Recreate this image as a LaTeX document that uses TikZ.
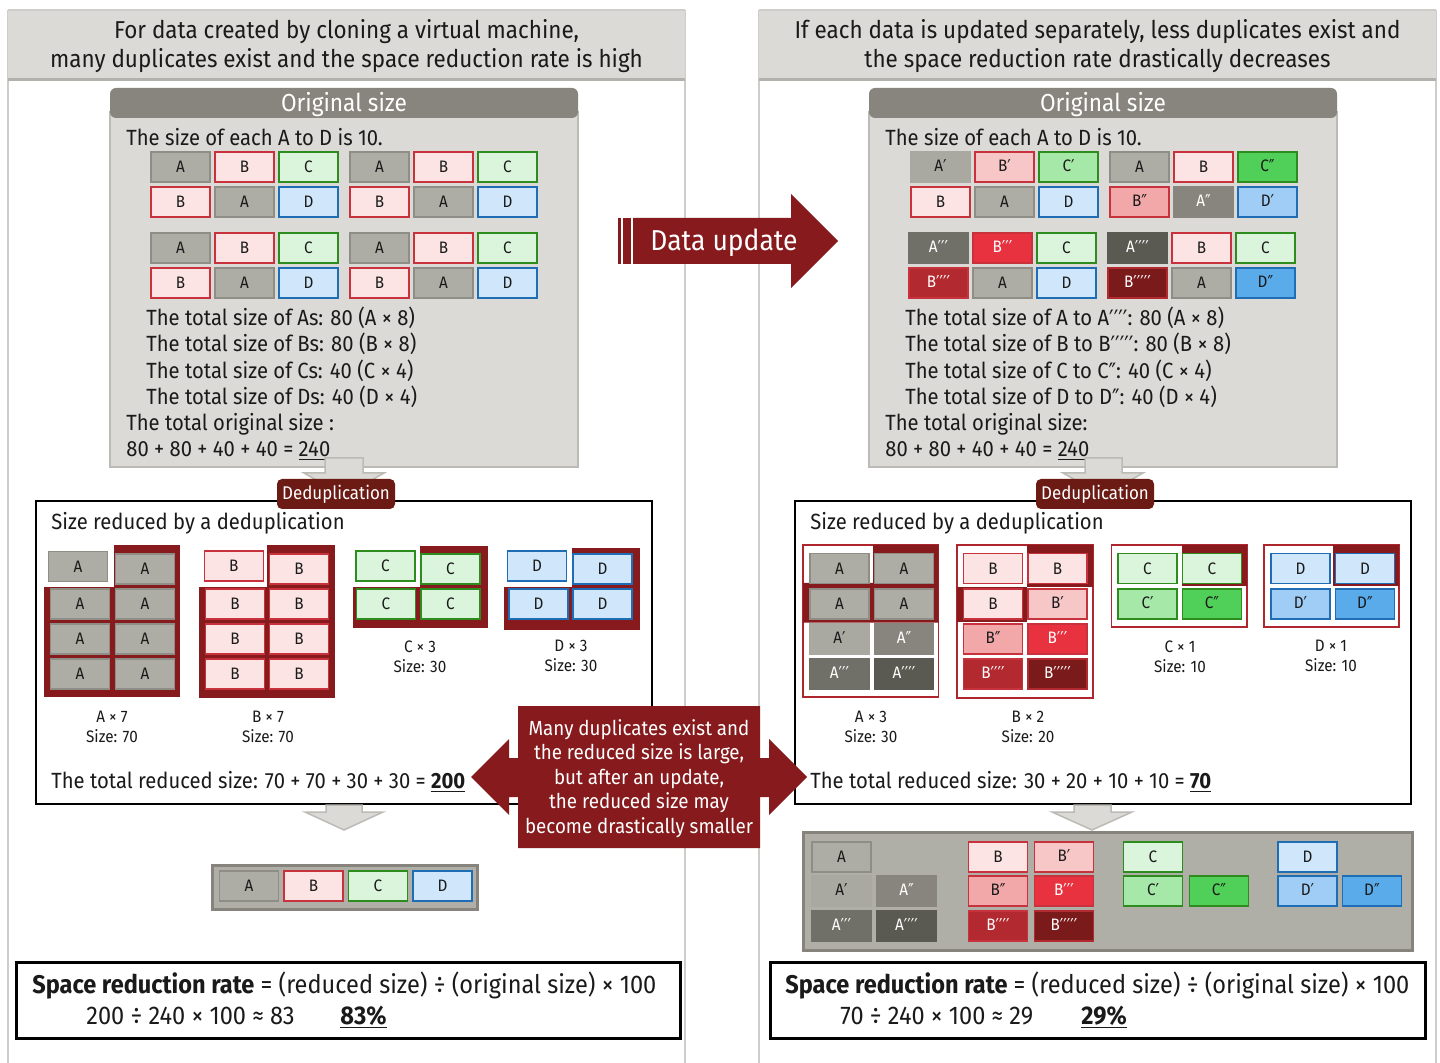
\documentclass[tikz,border=0pt]{standalone}
\usepackage{fontspec}
\setmainfont{Fira Sans}[FakeStretch=0.92]
\newfontfamily\primefont{DejaVu Sans}[FakeStretch=0.8,Scale=1.15]
\newcommand\prm[1]{\raisebox{-0.25ex}{\primefont #1}}
\newcommand\pI{\prm{′}}
\newcommand\pII{\prm{″}}
\newcommand\pIII{\prm{′′′}}
\newcommand\pIV{\prm{′′′′}}
\newcommand\pV{\prm{′′′′′}}
\definecolor{pg}{HTML}{DCDAD6}
\definecolor{pgl}{HTML}{CFCDC9}
\definecolor{pgd}{HTML}{B3B1AB}
\definecolor{bar}{HTML}{87857D}
\definecolor{obd}{HTML}{BCBAB4}
\definecolor{dr}{HTML}{861A1C}
\definecolor{lbl}{HTML}{6B1A14}
\definecolor{res}{HTML}{AFAFA8}
\definecolor{resd}{HTML}{86847C}
\definecolor{frm}{HTML}{B0262E}
\definecolor{txt}{HTML}{1A1A1A}
\definecolor{cA}{HTML}{ADADA5}
\definecolor{cAd}{HTML}{8E8E86}
\definecolor{cA1}{HTML}{A9A8A1}
\definecolor{cA2}{HTML}{87857D}
\definecolor{cA3}{HTML}{706F68}
\definecolor{cA4}{HTML}{5A5A52}
\definecolor{cB}{HTML}{FCE4E4}
\definecolor{cBd}{HTML}{C8323C}
\definecolor{cB1}{HTML}{F7C7C8}
\definecolor{cB2}{HTML}{F2A7A9}
\definecolor{cB3}{HTML}{E8323F}
\definecolor{cB4}{HTML}{B22A30}
\definecolor{cB5}{HTML}{7B1A1A}
\definecolor{cC}{HTML}{DAF5DC}
\definecolor{cCd}{HTML}{2E8B1E}
\definecolor{cC1}{HTML}{A6E8A8}
\definecolor{cC2}{HTML}{50D058}
\definecolor{cD}{HTML}{D0E6FA}
\definecolor{cDd}{HTML}{1F6DB5}
\definecolor{cD1}{HTML}{A0CDF5}
\definecolor{cD2}{HTML}{5AABEA}
\tikzset{
 bx/.style={draw, line width=0.7pt, minimum width=29.5pt, minimum height=15pt, inner sep=0pt, font=\fontsize{8.3}{9}\selectfont, text=txt},
 bA/.style={bx, fill=cA, draw=cAd},
 bA1/.style={bx, fill=cA1, draw=cA1},
 bA2/.style={bx, fill=cA2, draw=cA2, text=white},
 bA3/.style={bx, fill=cA3, draw=cA3, text=white},
 bA4/.style={bx, fill=cA4, draw=cA4, text=white},
 bB/.style={bx, fill=cB, draw=cBd},
 bB1/.style={bx, fill=cB1, draw=cBd},
 bB2/.style={bx, fill=cB2, draw=cBd},
 bB3/.style={bx, fill=cB3, draw=cBd, text=white},
 bB4/.style={bx, fill=cB4, draw=cBd, text=white},
 bB5/.style={bx, fill=cB5, draw=cB4, text=white},
 bC/.style={bx, fill=cC, draw=cCd},
 bC1/.style={bx, fill=cC1, draw=cCd},
 bC2/.style={bx, fill=cC2, draw=cCd},
 bD/.style={bx, fill=cD, draw=cDd},
 bD1/.style={bx, fill=cD1, draw=cDd},
 bD2/.style={bx, fill=cD2, draw=cDd},
 body/.style={anchor=base west, inner sep=0pt, text=txt, font=\fontsize{11}{13}\selectfont},
 head/.style={anchor=base, inner sep=0pt, text=txt, font=\fontsize{12.2}{14}\selectfont},
 lab/.style={align=center, inner sep=0pt, text=txt, font=\fontsize{8.3}{10}\selectfont},
 call/.style={anchor=base, inner sep=0pt, text=white, font=\fontsize{10.2}{12}\selectfont},
 form/.style={anchor=base west, inner sep=0pt, text=txt, font=\fontsize{12.8}{14}\selectfont},
 grayarrow/.style={fill=pg, draw=obd, line width=0.75pt},
 deduplabel/.style={fill=lbl, rounded corners=2.5pt, text=white, font=\fontsize{9.2}{11}\selectfont, minimum width=59pt, minimum height=15pt, inner sep=0pt},
}
\begin{document}
\begin{tikzpicture}[x=0.5pt,y=-0.5pt]
\useasboundingbox (0,0) rectangle (1440,1063);
\fill[white] (0,0) rectangle (1440,1063);
% panels
\foreach \px in {8,685,759,1436} \draw[pgl, line width=0.75pt] (\px,10) -- (\px,1063);
\fill[pg] (8,10) rectangle (685,80);
\fill[pg] (759,10) rectangle (1436,80);
\draw[pgl, line width=0.75pt] (8,10) -- (685,10) (759,10) -- (1436,10);
\draw[pgd, line width=1.5pt] (8,80) -- (685,80) (759,80) -- (1436,80);
\node[head] (hl1) at (346.5,39) {For data created by cloning a virtual machine,};
\node[head] (hl2) at (346.5,68) {many duplicates exist and the space reduction rate is high};
\node[head] (hr1) at (1097.5,39) {If each data is updated separately, less duplicates exist and};
\node[head] (hr2) at (1097.5,68) {the space reduction rate drastically decreases};

% original size boxes
\foreach \ox/\nm in {110/ol,869/or}{
  \draw[obd, fill=pg, line width=0.75pt] (\ox,112) rectangle (\ox+468,467);
  \fill[bar, rounded corners=3pt] (\ox,88) rectangle (\ox+468,118);
  \node[text=white, font=\fontsize{12.3}{15}\selectfont, anchor=base, inner sep=0pt] (\nm t) at (\ox+234,111.5) {Original size};
}
\node[body] (ol1) at (126,145.5) {The size of each A to D is 10.};
\node[body] (or1) at (885,145.5) {The size of each A to D is 10.};

% left original grid
\foreach \x/\y/\s/\t [count=\i] in {
 180.5/167/bA/A, 244.5/167/bB/B, 308.5/167/bC/C, 379.5/167/bA/A, 443.5/167/bB/B, 507.5/167/bC/C,
 180.5/202/bB/B, 244.5/202/bA/A, 308.5/202/bD/D, 379.5/202/bB/B, 443.5/202/bA/A, 507.5/202/bD/D,
 180.5/248/bA/A, 244.5/248/bB/B, 308.5/248/bC/C, 379.5/248/bA/A, 443.5/248/bB/B, 507.5/248/bC/C,
 180.5/283/bB/B, 244.5/283/bA/A, 308.5/283/bD/D, 379.5/283/bB/B, 443.5/283/bA/A, 507.5/283/bD/D}
 \node[\s] (og\i) at (\x,\y) {\t};

% right original grid
\foreach \x/\y/\s/\t [count=\i] in {
 940.5/167/bA1/A\pI, 1004.5/167/bB1/B\pI, 1068.5/167/bC1/C\pI, 1139.5/167/bA/A, 1203.5/167/bB/B, 1267.5/167/bC2/C\pII,
 940.5/202/bB/B, 1004.5/202/bA/A, 1068.5/202/bD/D, 1139.5/202/bB2/B\pII, 1203.5/202/bA2/A\pII, 1267.5/202/bD1/D\pI,
 938.5/248/bA3/A\pIII, 1002.5/248/bB3/B\pIII, 1066.5/248/bC/C, 1137.5/248/bA4/A\pIV, 1201.5/248/bB/B, 1265.5/248/bC/C,
 938.5/283/bB4/B\pIV, 1002.5/283/bA/A, 1066.5/283/bD/D, 1137.5/283/bB5/B\pV, 1201.5/283/bA/A, 1265.5/283/bD2/D\pII}
 \node[\s] (rg\i) at (\x,\y) {\t};

\node[body] (ol2) at (146,326) {The total size of As: 80 (A × 8)};
\node[body] (ol3) at (146,352) {The total size of Bs: 80 (B × 8)};
\node[body] (ol4) at (146,378.5) {The total size of Cs: 40 (C × 4)};
\node[body] (ol5) at (146,404.5) {The total size of Ds: 40 (D × 4)};
\node[body] (ol6) at (126,430.5) {The total original size :};
\node[body] (ol7) at (126,456.5) {80 + 80 + 40 + 40 = \underline{240}};
\node[body] (or2) at (905,326) {The total size of A to A\pIV: 80 (A × 8)};
\node[body] (or3) at (905,352) {The total size of B to B\pV: 80 (B × 8)};
\node[body] (or4) at (905,378.5) {The total size of C to C\pII: 40 (C × 4)};
\node[body] (or5) at (905,404.5) {The total size of D to D\pII: 40 (D × 4)};
\node[body] (or6) at (885,430.5) {The total original size:};
\node[body] (or7) at (885,456.5) {80 + 80 + 40 + 40 = \underline{240}};

% data update arrow
\fill[dr] (618,218) rectangle (621,264);
\fill[dr] (623,218) rectangle (631,264);
\fill[dr] (633,218) -- (791,218) -- (791,194) -- (838,241) -- (791,288) -- (791,264) -- (633,264) -- cycle;
\node[text=white, font=\fontsize{14.4}{17}\selectfont, anchor=base, inner sep=0pt] (upd) at (724,251) {Data update};

% dedup boxes
\draw[black, line width=1pt, fill=white] (36,501) rectangle (652,804);
\draw[black, line width=1pt, fill=white] (795,501) rectangle (1411,804);
% gray arrows
\draw[grayarrow] (325,458) -- (363,458) -- (363,473) -- (384,473) -- (344,496) -- (304,473) -- (325,473) -- cycle;
\draw[grayarrow] (1085,458) -- (1122,458) -- (1122,473) -- (1143,473) -- (1103,496) -- (1063,473) -- (1085,473) -- cycle;
\draw[grayarrow] (326,805) -- (362,805) -- (362,812) -- (383,812) -- (344,830) -- (305,812) -- (326,812) -- cycle;
\draw[grayarrow] (1074,805) -- (1111,805) -- (1111,812) -- (1132,812) -- (1092,830) -- (1052,812) -- (1074,812) -- cycle;
\node[deduplabel] (dl) at (336,494) {Deduplication};
\node[deduplabel] (dr) at (1095,494) {Deduplication};

\node[body] (sl) at (51,529.3) {Size reduced by a deduplication};
\node[body] (sr) at (810,529.3) {Size reduced by a deduplication};

% left dedup groups
\fill[dr] (44,545) rectangle (180,697);
\fill[white] (44,545) rectangle (114,587);
\node[bA] (la0) at (78,566.5) {A};
\foreach \x/\y [count=\i] in {145/569, 80/604, 145/604, 80/639, 145/639, 80/674, 145/674}
  \node[bA] (la\i) at (\x,\y) {A};
\fill[dr] (199,545) rectangle (335,698);
\fill[white] (199,545) rectangle (267,587);
\node[bB] (lb0) at (233.75,566) {B};
\foreach \x/\y [count=\i] in {299/569, 235/604, 299/604, 235/639, 299/639, 235/674, 299/674}
  \node[bB] (lb\i) at (\x,\y) {B};
\fill[dr] (353,546) rectangle (488,628);
\fill[white] (353,546) rectangle (420,587);
\node[bC] (lc0) at (385.5,566) {C};
\foreach \x/\y [count=\i] in {450.5/569, 386/604, 450.5/604}
  \node[bC] (lc\i) at (\x,\y) {C};
\fill[dr] (504,548) rectangle (640,630);
\fill[white] (504,548) rectangle (572,587);
\node[bD] (ld0) at (537,566) {D};
\foreach \x/\y [count=\i] in {602.5/569, 538.5/604, 602.5/604}
  \node[bD] (ld\i) at (\x,\y) {D};
\node[lab] (lla) at (112,727) {A × 7\\Size: 70};
\node[lab] (llb) at (268,727) {B × 7\\Size: 70};
\node[lab] (llc) at (420,657) {C × 3\\Size: 30};
\node[lab] (lld) at (571,656) {D × 3\\Size: 30};
\node[body] (tl) at (51,788.3) {The total reduced size: 70 + 70 + 30 + 30 = \underline{\bfseries 200}};

% right dedup groups
\draw[frm, line width=0.75pt, fill=white] (803,545) rectangle (938.5,697);
\fill[dr] (873,545) -- (938.5,545) -- (938.5,622.5) -- (803,622.5) -- (803,583) -- (873,583) -- cycle;
\foreach \x/\y/\s/\t [count=\i] in {839.5/568.5/bA/A, 904/568.5/bA/A, 839.5/604/bA/A, 904/604/bA/A, 839.5/639/bA1/A\pI, 904/639/bA2/A\pII, 839.5/674/bA3/A\pIII, 904/674/bA4/A\pIV}
  \node[\s] (ra\i) at (\x,\y) {\t};
\draw[frm, line width=0.75pt, fill=white] (957,545) rectangle (1093,698);
\fill[dr] (1027,545) rectangle (1093,587);
\fill[dr] (957,587) rectangle (1027,622);
\foreach \x/\y/\s/\t [count=\i] in {993/568.5/bB/B, 1057.5/568.5/bB/B, 993/604/bB/B, 1057.5/604/bB1/B\pI, 993/639/bB2/B\pII, 1057.5/639/bB3/B\pIII, 993/674/bB4/B\pIV, 1057.5/674/bB5/B\pV}
  \node[\s] (rb\i) at (\x,\y) {\t};
\draw[frm, line width=0.75pt, fill=white] (1111.5,545) rectangle (1247,627);
\fill[dr] (1182,545) rectangle (1247,586);
\foreach \x/\y/\s/\t [count=\i] in {1147.5/568.5/bC/C, 1212/568.5/bC/C, 1147.5/604/bC1/C\pI, 1212/604/bC2/C\pII}
  \node[\s] (rc\i) at (\x,\y) {\t};
\draw[frm, line width=0.75pt, fill=white] (1264,545) rectangle (1399,627);
\fill[dr] (1333,545) rectangle (1399,586);
\foreach \x/\y/\s/\t [count=\i] in {1300.5/568.5/bD/D, 1365/568.5/bD/D, 1300.5/604/bD1/D\pI, 1365/604/bD2/D\pII}
  \node[\s] (rd\i) at (\x,\y) {\t};
\node[lab] (rla) at (871,727) {A × 3\\Size: 30};
\node[lab] (rlb) at (1028,727) {B × 2\\Size: 20};
\node[lab] (rlc) at (1180,657) {C × 1\\Size: 10};
\node[lab] (rld) at (1331,656) {D × 1\\Size: 10};
\node[body] (tr) at (810,788.3) {The total reduced size: 30 + 20 + 10 + 10 = \underline{\bfseries 70}};

% callout
\fill[dr] (518,706) -- (760,706) -- (760,758) -- (769,758) -- (769,739) -- (807,777) -- (769,815) -- (769,797) -- (760,797) -- (760,848) -- (518,848) -- (518,797) -- (509,797) -- (509,815) -- (471,777) -- (509,739) -- (509,758) -- (518,758) -- cycle;
\node[call] (c1) at (639,735) {Many duplicates exist and};
\node[call] (c2) at (639,759.5) {the reduced size is large,};
\node[call] (c3) at (639,784) {but after an update,};
\node[call] (c4) at (639,808.5) {the reduced size may};
\node[call] (c5) at (639,833) {become drastically smaller};

% results
\draw[resd, fill=res, line width=1.5pt] (212,865) rectangle (477,909);
\foreach \x/\s/\t [count=\i] in {249/bA/A, 313.5/bB/B, 378/bC/C, 442.5/bD/D}
  \node[\s] (rl\i) at (\x,886) {\t};
\draw[resd, fill=res, line width=1.5pt] (803,832) rectangle (1412,950);
\foreach \x/\y/\s/\t [count=\i] in {
 841.5/857/bA/A, 841.5/891/bA1/A\pI, 906.5/891/bA2/A\pII, 841.5/926/bA3/A\pIII, 906.5/926/bA4/A\pIV,
 998/857/bB/B, 1064/857/bB1/B\pI, 998/891/bB2/B\pII, 1064/891/bB3/B\pIII, 998/926/bB4/B\pIV, 1064/926/bB5/B\pV,
 1153/857/bC/C, 1153/891/bC1/C\pI, 1219/891/bC2/C\pII,
 1307.5/857/bD/D, 1307.5/891/bD1/D\pI, 1372/891/bD2/D\pII}
  \node[\s] (rr\i) at (\x,\y) {\t};

% formulas
\draw[black, line width=1.5pt] (16,962) rectangle (680,1038);
\draw[black, line width=1.5pt] (770,962) rectangle (1425,1038);
\node[form] (fl1) at (32,993) {\textbf{Space reduction rate} = (reduced size) ÷ (original size) × 100};
\node[form] (fl2) at (86,1024) {200 ÷ 240 × 100 ≈ 83};
\node[form] (fl3) at (340,1024) {\underline{\textbf{83\%}}};
\node[form] (fr1) at (785,993) {\textbf{Space reduction rate} = (reduced size) ÷ (original size) × 100};
\node[form] (fr2) at (840,1024) {70 ÷ 240 × 100 ≈ 29};
\node[form] (fr3) at (1081,1024) {\underline{\textbf{29\%}}};
\end{tikzpicture}
\end{document}
